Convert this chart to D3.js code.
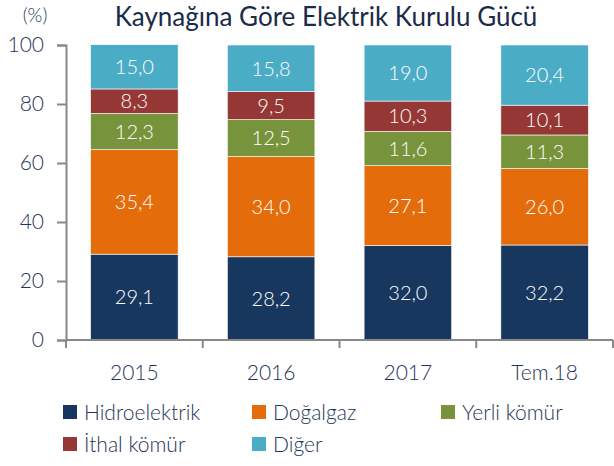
<!DOCTYPE html>
<html>
<head>
<meta charset="utf-8">
<script src="https://cdn.jsdelivr.net/npm/d3@7"></script>
<style>
  body { margin: 0; background: #fff; }
  svg { font-family: Lato, "Open Sans", sans-serif; font-weight: 300; }
</style>
</head>
<body>
<svg width="614" height="466"></svg>
<script>
const years = ["2015", "2016", "2017", "Tem.18"];
const sources = ["Hidroelektrik", "Doğalgaz", "Yerli kömür", "İthal kömür", "Diğer"];
const hidro = [29.1, 28.2, 32.0, 32.2];
const dogalgaz = [35.4, 34.0, 27.1, 26.0];
const yerli = [12.3, 12.5, 11.6, 11.3];
const ithal = [8.3, 9.5, 10.3, 10.1];
const diger = [15.0, 15.8, 19.0, 20.4];
const yTicks = [0, 20, 40, 60, 80, 100];

const colors = ["#17375e", "#e46c0a", "#77933c", "#953735", "#4bacc6"];
const textColor = "#1f3558";

const svg = d3.select("svg");
const margin = { left: 66, right: 1, top: 45, bottom: 126 };
const width = +svg.attr("width");
const height = +svg.attr("height");
const innerWidth = width - margin.left - margin.right;
const innerHeight = height - margin.top - margin.bottom;

const g = svg.append("g").attr("transform", `translate(${margin.left},${margin.top})`);

const rows = years.map((y, i) => ({
  year: y,
  "Hidroelektrik": hidro[i],
  "Doğalgaz": dogalgaz[i],
  "Yerli kömür": yerli[i],
  "İthal kömür": ithal[i],
  "Diğer": diger[i]
}));

const xScale = d3.scaleBand().domain(years).range([0, innerWidth]).paddingInner(0.36).paddingOuter(0.18);
const yScale = d3.scaleLinear().domain([0, 100]).range([innerHeight, 0]);
const color = d3.scaleOrdinal().domain(sources).range(colors);

const stacked = d3.stack().keys(sources)(rows);

const layers = g.selectAll("g.layer")
  .data(stacked)
  .enter()
  .append("g")
  .attr("class", "layer")
  .attr("fill", d => color(d.key));

layers.selectAll("rect")
  .data(d => d)
  .enter()
  .append("rect")
  .attr("x", d => xScale(d.data.year))
  .attr("y", d => yScale(d[1]))
  .attr("width", xScale.bandwidth())
  .attr("height", d => yScale(d[0]) - yScale(d[1]))
  .attr("stroke", "#fff")
  .attr("stroke-width", 0.6);

layers.selectAll("text")
  .data(d => d)
  .enter()
  .append("text")
  .attr("x", d => xScale(d.data.year) + xScale.bandwidth() / 2)
  .attr("y", d => (yScale(d[0]) + yScale(d[1])) / 2)
  .attr("dy", "0.36em")
  .attr("text-anchor", "middle")
  .attr("fill", "#fff")
  .style("font-size", "20px")
  .text(d => d3.format(".1f")(d[1] - d[0]).replace(".", ","));

// axes
const yAxis = d3.axisLeft(yScale).tickValues(yTicks).tickSize(9).tickPadding(13);
const yAxisG = g.append("g").call(yAxis);
yAxisG.select(".domain").attr("stroke", "#888").attr("stroke-width", 2);
yAxisG.selectAll(".tick line").attr("stroke", "#888").attr("stroke-width", 2);
yAxisG.selectAll("text")
  .attr("fill", textColor)
  .style("font-size", "21px")
  .style("font-family", "Lato, sans-serif")
  .style("font-weight", 300);

const boundaries = d3.range(years.length + 1).map(i => i * innerWidth / years.length);
const xAxisG = g.append("g").attr("transform", `translate(0,${innerHeight})`);
xAxisG.append("line")
  .attr("x1", 0).attr("x2", innerWidth)
  .attr("stroke", "#888").attr("stroke-width", 2);
xAxisG.selectAll("line.tk")
  .data(boundaries)
  .enter()
  .append("line")
  .attr("class", "tk")
  .attr("x1", d => d).attr("x2", d => d)
  .attr("y1", 0).attr("y2", 8)
  .attr("stroke", "#888").attr("stroke-width", 2);
xAxisG.selectAll("text")
  .data(years)
  .enter()
  .append("text")
  .attr("x", d => xScale(d) + xScale.bandwidth() / 2)
  .attr("y", 40)
  .attr("text-anchor", "middle")
  .attr("fill", textColor)
  .style("font-size", "21px")
  .text(d => d);

// title
svg.append("text")
  .attr("x", 326)
  .attr("y", 26)
  .attr("text-anchor", "middle")
  .attr("fill", "#1a2b48")
  .style("font-size", "26px")
  .style("font-weight", 400)
  .text("Kaynağına Göre Elektrik Kurulu Gücü");

svg.append("text")
  .attr("x", 35)
  .attr("y", 22)
  .attr("text-anchor", "middle")
  .attr("fill", textColor)
  .style("font-size", "19px")
  .text("(%)");

// legend
const legendPos = [[63, 405], [252, 405], [441, 405], [63, 437], [252, 437]];
const legend = svg.selectAll("g.legend")
  .data(sources)
  .enter()
  .append("g")
  .attr("class", "legend")
  .attr("transform", (d, i) => `translate(${legendPos[i][0]},${legendPos[i][1]})`);
legend.append("rect")
  .attr("width", 14).attr("height", 14)
  .attr("fill", d => color(d));
legend.append("text")
  .attr("x", 21)
  .attr("y", 7)
  .attr("dy", "0.36em")
  .attr("fill", textColor)
  .style("font-size", "21px")
  .text(d => d);
</script>
</body>
</html>
